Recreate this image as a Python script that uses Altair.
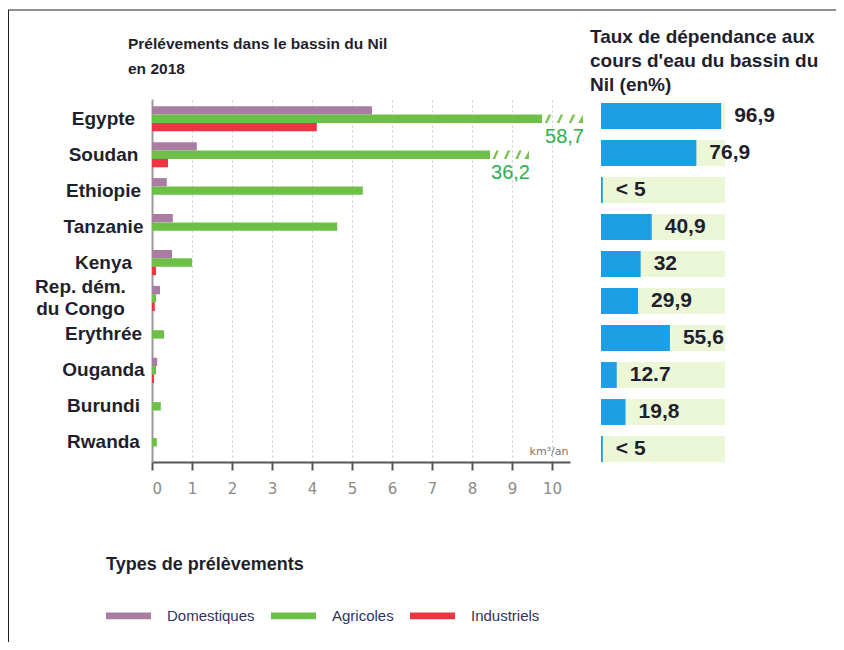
import altair as alt
import pandas as pd

# ---------------- data ----------------
countries = ["Egypte", "Soudan", "Ethiopie", "Tanzanie", "Kenya",
             "Rep. dém.\ndu Congo", "Erythrée", "Ouganda", "Burundi", "Rwanda"]
types = ["Domestiques", "Agricoles", "Industriels"]
domestiques = [5.5, 1.12, 0.37, 0.52, 0.5, 0.2, 0.0, 0.13, 0.0, 0.0]
agricoles = [58.7, 36.2, 5.27, 4.63, 1.0, 0.1, 0.3, 0.1, 0.22, 0.12]
industriels = [4.12, 0.4, 0.0, 0.0, 0.1, 0.07, 0.0, 0.05, 0.0, 0.0]

# values beyond the axis are drawn cut, with a hatched end
break_country = ["Egypte", "Soudan"]
break_at = [9.75, 8.45]
break_end = [10.75, 9.4]
break_label = ["58,7", "36,2"]

dependance = [96.9, 76.9, 1.5, 40.9, 32, 29.9, 55.6, 12.7, 19.8, 1.5]
dependance_label = ["96,9", "76,9", "< 5", "40,9", "32", "29,9", "55,6", "12.7", "19,8", "< 5"]

FONT = "Liberation Sans"
TXT = "#1f1f2e"

# ---------------- tables ----------------
rows = []
brk = dict(zip(break_country, break_at))
for i, c in enumerate(countries):
    for t, vals in zip(types, [domestiques, agricoles, industriels]):
        v = vals[i]
        shown = min(v, brk[c]) if (t == "Agricoles" and c in brk) else v
        rows.append({"country": c, "type": t, "value": v, "shown": shown})
df = pd.DataFrame(rows)

hatch_rows = []
for c, a, e in zip(break_country, break_at, break_end):
    span = e - a
    for f in [0.15, 0.45, 0.75]:
        hatch_rows.append({"country": c, "x": a + span * f, "kind": "slash"})
    hatch_rows.append({"country": c, "x": e - span * 0.03, "kind": "tri"})
hatch_df = pd.DataFrame(hatch_rows)
blab_df = pd.DataFrame({"country": break_country, "x": break_end, "label": break_label})

dep_df = pd.DataFrame({"country": countries, "value": dependance,
                       "label": dependance_label, "full": [100] * len(countries)})

# ---------------- scales ----------------
x_scale = alt.Scale(domain=[0, 10.45], nice=False, zero=True)
y_scale = alt.Scale(domain=countries, paddingInner=0.3)
color_scale = alt.Scale(domain=types, range=["#a97ca1", "#6dbf47", "#ee3443"])

multi = "indexof(datum.value, '\\n') >= 0"

bars = alt.Chart(df).mark_bar().encode(
    x=alt.X("shown:Q", scale=x_scale,
            axis=alt.Axis(values=list(range(11)), title="km³/an",
                          titleX=416, titleY=-6, titleAlign="right", titleBaseline="bottom",
                          titleFont="DejaVu Sans", titleFontSize=11, titleFontWeight="normal",
                          titleColor="#777",
                          domainColor="#555", domainWidth=2,
                          tickColor="#555", tickSize=8, tickWidth=2,
                          labelFont="DejaVu Sans", labelFontSize=15, labelColor="#8a8a8a",
                          labelPadding=11,
                          grid=True, gridColor="#c8c8c8", gridDash=[2, 3], gridWidth=1)),
    y=alt.Y("country:N", scale=y_scale, sort=countries,
            axis=alt.Axis(title=None, ticks=False, domainColor="#9a9a9a", domainWidth=2,
                          labelAlign="center", labelFont=FONT,
                          labelPadding={"condition": {"test": multi, "value": 72}, "value": 49},
                          labelFontSize=19, labelFontWeight="bold", labelColor=TXT,
                          labelLimit=0, labelLineHeight=22,
                          labelOffset={"condition": {"test": multi, "value": -11}, "value": 0},
                          labelExpr="split(datum.label, '\\n')")),
    yOffset=alt.YOffset("type:N", sort=types, scale=alt.Scale(domain=types)),
    color=alt.Color("type:N", scale=color_scale,
                    legend=alt.Legend(title="Types de prélèvements", orient="none",
                                      legendX=-46, legendY=457, direction="horizontal",
                                      titleFont=FONT, titleFontSize=18, titleFontWeight="bold",
                                      titleColor=TXT, titlePadding=19, titleLimit=0,
                                      labelFont=FONT, labelFontSize=15, labelColor="#33335a",
                                      labelOffset=16, columnPadding=16, labelLimit=0,
                                      symbolType="M-1,-0.15H1V0.15H-1Z", symbolSize=2025,
                                      symbolStrokeWidth=0, symbolOpacity=1)),
)

slashes = alt.Chart(hatch_df).transform_filter("datum.kind == 'slash'").mark_point(
    shape="M-0.75,1L0.15,-1L0.75,-1L-0.15,1Z", filled=True, color="#7cc24e", opacity=1, size=72
).encode(x=alt.X("x:Q", scale=x_scale), y=alt.Y("country:N", scale=y_scale, sort=countries))

tris = alt.Chart(hatch_df).transform_filter("datum.kind == 'tri'").mark_point(
    shape="M-0.6,1L0.5,-1L0.5,1Z", filled=True, color="#7cc24e", opacity=1, size=72
).encode(x=alt.X("x:Q", scale=x_scale), y=alt.Y("country:N", scale=y_scale, sort=countries))

blabels = alt.Chart(blab_df).mark_text(
    align="right", baseline="middle", dy=18, dx=2, font=FONT, fontSize=20, color="#2bb04f"
).encode(x=alt.X("x:Q", scale=x_scale), y=alt.Y("country:N", scale=y_scale, sort=countries),
         text="label:N")

left = alt.layer(bars, slashes, tris, blabels)

# ---------------- right panel ----------------
x2 = alt.Scale(domain=[0, 100], range=[449, 573], nice=False)
y2 = alt.Scale(domain=countries, range=[-1.5, 368.5], paddingInner=0.3)

bg = alt.Chart(dep_df).mark_bar(color="#ecf7d8").encode(
    x=alt.X("full:Q", scale=x2, axis=None),
    y=alt.Y("country:N", scale=y2, sort=countries, axis=None))
blue = alt.Chart(dep_df).mark_bar(color="#1d9fe6").encode(
    x=alt.X("value:Q", scale=x2, axis=None),
    y=alt.Y("country:N", scale=y2, sort=countries, axis=None))
vals = alt.Chart(dep_df).mark_text(
    align="left", baseline="middle", dx=13, font=FONT, fontSize=21, fontWeight="bold", color=TXT
).encode(x=alt.X("value:Q", scale=x2, axis=None),
         y=alt.Y("country:N", scale=y2, sort=countries, axis=None),
         text="label:N")

one = alt.Data(values=[{"k": 1}])
title_left = alt.Chart(one).mark_text(
    text=["Prélévements dans le bassin du Nil", "  en 2018"], align="left", baseline="top",
    font=FONT, fontSize=15.5, fontWeight="bold", color=TXT, lineHeight=25
).encode(x=alt.value(-24), y=alt.value(-62))
title_right = alt.Chart(one).mark_text(
    text=["Taux de dépendance aux", "cours d'eau du bassin du", "Nil (en%)"], align="left",
    baseline="top", font=FONT, fontSize=19, fontWeight="bold", color=TXT, lineHeight=24
).encode(x=alt.value(438), y=alt.value(-71))
frame_top = alt.Chart(one).mark_rule(color="#222", strokeWidth=1).encode(
    x=alt.value(-144), x2=alt.value(690), y=alt.value(-89))
frame_left = alt.Chart(one).mark_rule(color="#222", strokeWidth=1).encode(
    x=alt.value(-143.5), y=alt.value(-89), y2=alt.value(543))

right = alt.layer(bg, blue, vals, title_left, title_right, frame_top, frame_left)

chart = alt.layer(left, right).resolve_scale(x="independent", y="independent").properties(
    width=418, height=363,
    autosize=alt.AutoSizeParams(type="none"),
    padding={"left": 144, "top": 91, "right": 266, "bottom": 180},
    background="white",
).configure_view(stroke=None)

chart.save("out.html", embed_options={"renderer": "svg", "actions": False})
